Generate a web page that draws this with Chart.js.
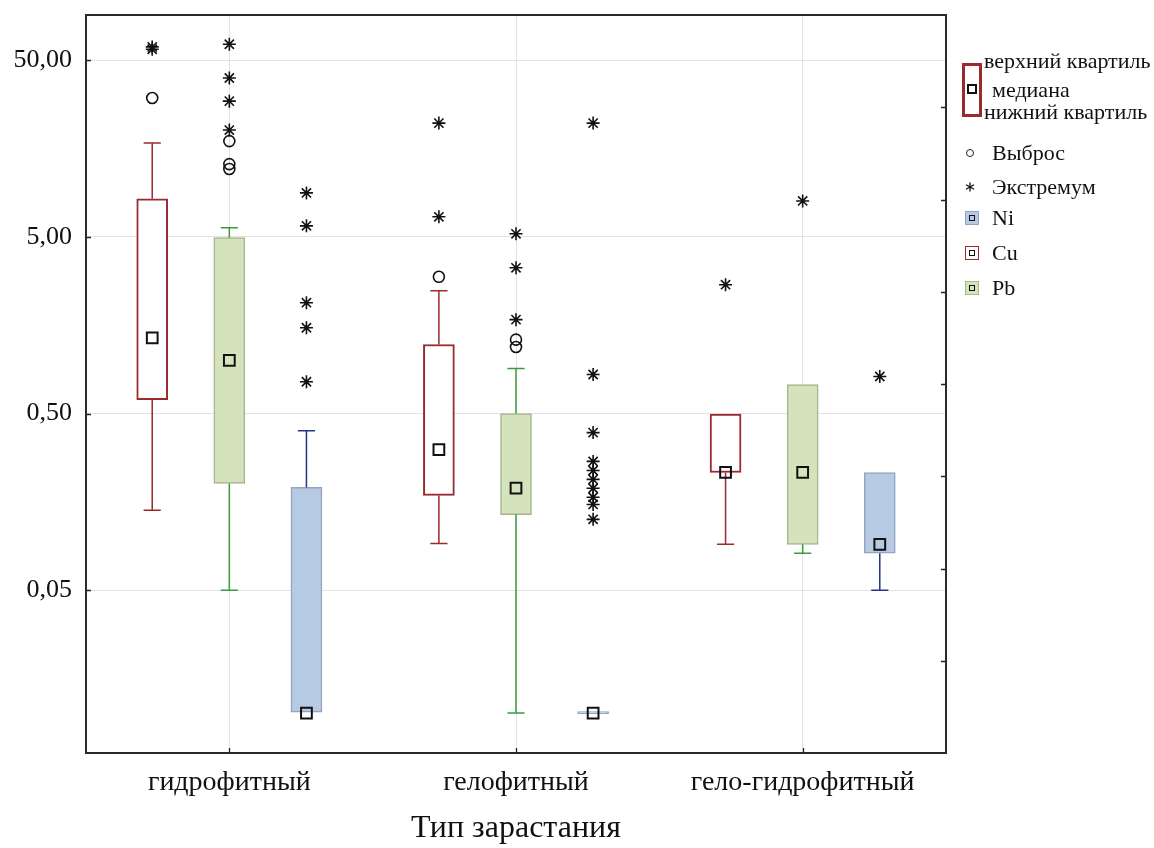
<!DOCTYPE html>
<html><head><meta charset="utf-8">
<script src="https://cdn.jsdelivr.net/npm/chart.js@4"></script>
<style>
html,body{margin:0;padding:0;background:#fff;}
#wrap{position:relative;width:1154px;height:848px;overflow:hidden;}
#c{position:absolute;left:0;top:0;}
.lg{position:absolute;font-family:'Liberation Serif','Times New Roman',serif;font-size:22px;line-height:24px;color:#111;white-space:nowrap;}
.ic{position:absolute;box-sizing:border-box;}
</style></head>
<body><div id="wrap"><canvas id="c" width="1154" height="848"></canvas>
<div class="ic" style="left:962px;top:63px;width:20px;height:54px;border:3px solid #9a2a2e;"></div>
<div class="ic" style="left:967px;top:84px;width:10px;height:10px;border:2px solid #111;"></div>
<div class="lg" style="left:984px;top:49px;">верхний квартиль</div>
<div class="lg" style="left:992px;top:78px;">медиана</div>
<div class="lg" style="left:984px;top:100px;">нижний квартиль</div>
<div class="ic" style="left:966px;top:149px;width:8px;height:8px;border:1.3px solid #222;border-radius:50%;"></div>
<div class="lg" style="left:992px;top:141px;">Выброс</div>
<svg class="ic" style="left:965px;top:182px;" width="10" height="10" viewBox="0 0 10 10"><g stroke="#111" stroke-width="1.3"><line x1="5" y1="0.5" x2="5" y2="9.5"/><line x1="1" y1="2.7" x2="9" y2="7.3"/><line x1="1" y1="7.3" x2="9" y2="2.7"/></g></svg>
<div class="lg" style="left:992px;top:175px;">Экстремум</div>
<div class="ic" style="left:965px;top:211px;width:14px;height:14px;background:#b7cae3;border:1px solid #8fa3c3;"></div>
<div class="ic" style="left:969px;top:215px;width:6px;height:6px;border:1.5px solid #111;"></div>
<div class="lg" style="left:992px;top:206px;">Ni</div>
<div class="ic" style="left:965px;top:246px;width:14px;height:14px;background:#fff;border:1px solid #9a2a2e;"></div>
<div class="ic" style="left:969px;top:250px;width:6px;height:6px;border:1.5px solid #111;"></div>
<div class="lg" style="left:992px;top:241px;">Cu</div>
<div class="ic" style="left:965px;top:281px;width:14px;height:14px;background:#d5e3bc;border:1px solid #a9b98e;"></div>
<div class="ic" style="left:969px;top:285px;width:6px;height:6px;border:1.5px solid #111;"></div>
<div class="lg" style="left:992px;top:276px;">Pb</div>
</div>
<script>
// ---- data ----
const categories = ['гидрофитный', 'гелофитный', 'гело-гидрофитный'];
const yTickValues = [0.05, 0.5, 5, 50];
const yTickLabels = ['0,05', '0,50', '5,00', '50,00'];
const rightTickValues = [1, 2, 3, 4, 5, 6, 7];

const cuQ1 = [0.60, 0.172, 0.232];
const cuQ3 = [8.2, 1.23, 0.497];
const cuMedian = [1.34, 0.313, 0.232];
const cuLow = [0.142, 0.092, 0.091];
const cuHigh = [17.0, 2.48, 0.497];
const cuOutliers = [[30.5], [2.97], []];
const cuExtremes = [[57.6, 59.4], [22.0, 6.49], [2.68]];

const pbQ1 = [0.201, 0.134, 0.091];
const pbQ3 = [4.95, 0.50, 0.729];
const pbMedian = [1.0, 0.189, 0.232];
const pbLow = [0.05, 0.0101, 0.081];
const pbHigh = [5.62, 0.898, 0.729];
const pbOutliers = [[17.4, 12.9, 12.1], [1.31, 1.19], []];
const pbExtremes = [[61.5, 39.6, 29.3, 20.1], [5.2, 3.34, 1.70], [7.98]];

const niQ1 = [0.0102, 0.0100, 0.081];
const niQ3 = [0.191, 0.0103, 0.232];
const niMedian = [0.0101, 0.0101, 0.091];
const niLow = [0.0102, 0.0100, 0.05];
const niHigh = [0.40, 0.0103, 0.232];
const niOutliers = [[], [], []];
const niExtremes = [[8.86, 5.77, 2.12, 1.53, 0.757], [22.0, 0.832, 0.39, 0.268, 0.238, 0.212, 0.189, 0.168, 0.153, 0.126], [0.81]];

// ---- styles ----
const FONT = "'Liberation Serif','Times New Roman',serif";
const series = [
  {name:'Cu', q1:cuQ1, q3:cuQ3, med:cuMedian, lo:cuLow, hi:cuHigh, out:cuOutliers, ext:cuExtremes,
   fill:'#ffffff', border:'#9a2a2e', bw:2, whisker:'#9a2a2e', off:-0.269},
  {name:'Pb', q1:pbQ1, q3:pbQ3, med:pbMedian, lo:pbLow, hi:pbHigh, out:pbOutliers, ext:pbExtremes,
   fill:'#d5e3bc', border:'#a3b58a', bw:1.5, whisker:'#3c9a3c', off:0},
  {name:'Ni', q1:niQ1, q3:niQ3, med:niMedian, lo:niLow, hi:niHigh, out:niOutliers, ext:niExtremes,
   fill:'#b7cae3', border:'#91a4c0', bw:1.5, whisker:'#24358a', off:0.269}
];
const CAP = 0.03;

const datasets = [];
series.forEach(s => {
  datasets.push({
    type:'bar', label:s.name, xAxisID:'x2', yAxisID:'y', order:3, grouped:false,
    data: categories.map((c,i)=>({x:i+0.5+s.off, y:[s.q1[i], s.q3[i]]})),
    backgroundColor:s.fill, borderColor:s.border, borderWidth:s.bw, borderSkipped:false,
    barThickness:31
  });
});
series.forEach(s => {
  const pts = [];
  categories.forEach((c,i)=>{
    const cx = i + 0.5 + s.off;
    if (s.hi[i] > s.q3[i]) {
      pts.push({x:cx,y:s.q3[i]},{x:cx,y:s.hi[i]},{x:cx,y:null},
               {x:cx-CAP,y:s.hi[i]},{x:cx+CAP,y:s.hi[i]},{x:cx,y:null});
    }
    if (s.lo[i] < s.q1[i]) {
      pts.push({x:cx,y:s.q1[i]},{x:cx,y:s.lo[i]},{x:cx,y:null},
               {x:cx-CAP,y:s.lo[i]},{x:cx+CAP,y:s.lo[i]},{x:cx,y:null});
    }
  });
  datasets.push({type:'line', label:s.name+' whisker', xAxisID:'x2', yAxisID:'y', order:2,
    data:pts, borderColor:s.whisker, borderWidth:1.5, pointRadius:0, spanGaps:false, fill:false});
});
series.forEach(s => {
  datasets.push({type:'scatter', label:s.name+' median', xAxisID:'x2', yAxisID:'y', order:1,
    data: categories.map((c,i)=>({x:i+0.5+s.off, y:s.med[i]})),
    pointStyle:'rect', pointRadius:7.6, pointBorderWidth:2, pointBorderColor:'#111', pointBackgroundColor:'rgba(0,0,0,0)'});
  const o = [], e = [];
  categories.forEach((c,i)=>{
    s.out[i].forEach(v=>o.push({x:i+0.5+s.off, y:v}));
    s.ext[i].forEach(v=>e.push({x:i+0.5+s.off, y:v}));
  });
  datasets.push({type:'scatter', label:s.name+' outliers', xAxisID:'x2', yAxisID:'y', order:1,
    data:o, pointStyle:'circle', pointRadius:5.5, pointBorderWidth:1.6, pointBorderColor:'#111', pointBackgroundColor:'rgba(0,0,0,0)'});
  datasets.push({type:'scatter', label:s.name+' extremes', xAxisID:'x2', yAxisID:'y', order:1,
    data:e, pointStyle:'star', pointRadius:6.5, pointBorderWidth:1.6, pointBorderColor:'#111', pointBackgroundColor:'#111'});
});

const framePlugin = {
  id:'frame',
  afterDraw(chart){
    const {ctx, chartArea:a, scales} = chart;
    ctx.save();
    ctx.strokeStyle = '#222';
    ctx.lineWidth = 1.3;
    ctx.beginPath();
    yTickValues.forEach(v=>{const y=Math.round(scales.y.getPixelForValue(v))+0.5; ctx.moveTo(a.left,y); ctx.lineTo(a.left+5,y);});
    categories.forEach((c,i)=>{const x=Math.round(scales.x.getPixelForValue(i))+0.5; ctx.moveTo(x,a.bottom); ctx.lineTo(x,a.bottom-5);});
    rightTickValues.forEach(v=>{const y=Math.round(scales.y2.getPixelForValue(v))+0.5; ctx.moveTo(a.right,y); ctx.lineTo(a.right-5,y);});
    ctx.stroke();
    ctx.lineWidth = 2;
    ctx.strokeStyle = '#2a2a2a';
    ctx.strokeRect(a.left, a.top, a.right-a.left, a.bottom-a.top);
    ctx.restore();
  }
};

new Chart(document.getElementById('c'), {
  type:'bar',
  data:{labels:categories, datasets},
  options:{
    responsive:false, animation:false,
    layout:{padding:{top:15,left:0,right:0,bottom:0}},
    plugins:{legend:{display:false}, tooltip:{enabled:false}},
    scales:{
      x:{type:'category', position:'bottom', offset:true,
        grid:{offset:false, color:'#e3e3e3', lineWidth:1, drawTicks:false},
        border:{display:false},
        ticks:{font:{family:FONT,size:28}, color:'#111', padding:13, maxRotation:0},
        title:{display:true, text:'Тип зарастания', font:{family:FONT,size:32}, color:'#111', padding:{top:0,bottom:0}},
        afterFit(s){ s.height = 95; }
      },
      x2:{type:'linear', display:false, min:0, max:3, offset:false},
      y:{type:'logarithmic', position:'left', min:0.006, max:90,
        afterBuildTicks(s){ s.ticks = yTickValues.map(v=>({value:v})); },
        grid:{color:'#e3e3e3', lineWidth:1, drawTicks:false},
        border:{display:false},
        ticks:{font:{family:FONT,size:26}, color:'#111', padding:14,
          callback:(v,i)=>yTickLabels[i]},
        afterFit(s){ s.width = 86; s.paddingTop = 0; s.paddingBottom = 0; }
      },
      y2:{type:'linear', position:'right', min:0, max:8,
        afterBuildTicks(s){ s.ticks = rightTickValues.map(v=>({value:v})); },
        grid:{display:false, drawTicks:false}, border:{display:false},
        ticks:{display:false},
        afterFit(s){ s.width = 208; s.paddingTop = 0; s.paddingBottom = 0; }
      }
    }
  },
  plugins:[framePlugin]
});
</script>
</body></html>
